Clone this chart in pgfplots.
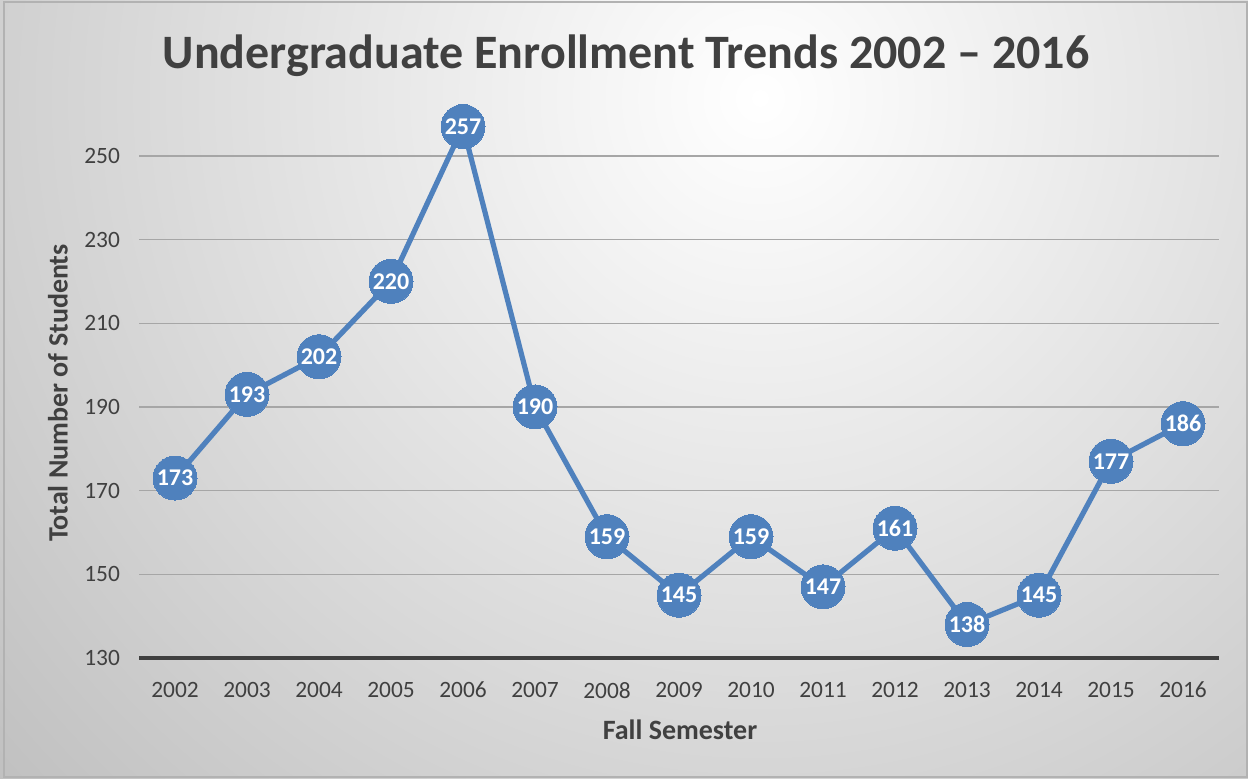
\documentclass[border=0pt]{standalone}
\usepackage{pgfplots}
\pgfplotsset{compat=1.18}
\usepackage{fontspec}
\setmainfont{Carlito}
\definecolor{txt}{HTML}{404040}
\definecolor{tick}{HTML}{404040}
\definecolor{blu}{HTML}{4F81BD}
\definecolor{grd}{HTML}{A6A6A6}
\begin{document}
\begin{tikzpicture}
\path[use as bounding box] (0,0) rectangle (624pt,389pt);
\begin{scope}
\clip (0,0) rectangle (624pt,389pt);
\shade[inner color=white, outer color=black!26] (380pt,340pt) circle (540pt);
\end{scope}
\draw[black!30, line width=0.6pt] (2pt,0.5pt) rectangle (623.5pt,388pt);
\node[font=\bfseries\fontsize{24}{28}\selectfont, text=txt] at (313pt,361pt) {Undergraduate Enrollment Trends 2002 – 2016};
\node[font=\bfseries\fontsize{14}{16}\selectfont, text=txt, rotate=90] at (29pt,192.5pt) {Total Number of Students};
\node[font=\bfseries\fontsize{14}{16}\selectfont, text=txt] at (340pt,24pt) {Fall Semester};
\begin{axis}[
  at={(69.5pt,60pt)}, anchor=south west,
  scale only axis, width=540pt, height=272pt,
  xmin=-0.5, xmax=14.5, ymin=130, ymax=260,
  xtick={0,...,14},
  xticklabels={2002,2003,2004,2005,2006,2007,2008,2009,2010,2011,2012,2013,2014,2015,2016},
  ytick={130,150,...,250},
  axis x line*=bottom, axis y line*=left,
  x axis line style={draw=txt, line width=2pt, -},
  y axis line style={draw=none},
  major tick length=0pt,
  ymajorgrids, grid style={grd, line width=0.7pt},
  ticklabel style={font=\fontsize{11.7}{13}\selectfont, text=tick},
  /pgf/number format/assume math mode=true,
  xticklabel style={yshift=-8.5pt},
  yticklabel style={xshift=-6pt},
  clip=false,
]
\addplot[blu, line width=2.6pt, mark=*, mark size=11pt, mark options={fill=blu, draw=blu, line width=0pt},
  nodes near coords, every node near coord/.append style={anchor=center, text=white, font=\bfseries\fontsize{12}{14}\selectfont}]
coordinates {(0,173)(1,193)(2,202)(3,220)(4,257)(5,190)(6,159)(7,145)(8,159)(9,147)(10,161)(11,138)(12,145)(13,177)(14,186)};
\end{axis}
\end{tikzpicture}
\end{document}
